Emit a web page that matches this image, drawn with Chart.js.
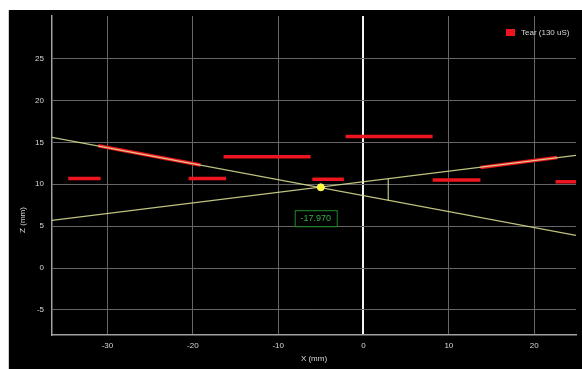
<!DOCTYPE html>
<html lang="en">
<head>
    <meta charset="UTF-8">
    <title>Tear (130 uS)</title>
    <script src="https://cdn.jsdelivr.net/npm/chart.js"></script>
    <style>
        html, body {
            margin: 0;
            background: #ffffff;
        }
        .panel {
            position: absolute;
            left: 8px;
            top: 10px;
            width: 574px;
            height: 359px;
            background: #000000;
            border-left: 1px solid #cfcfcf;
            box-sizing: border-box;
        }
        canvas {
            display: block;
        }
    </style>
</head>
<body>
    <div class="panel">
        <canvas id="chartTear" width="573" height="359"></canvas>
    </div>

    <script>
        // tear segments (mm): start/end X and start/end Z
        const tearX1 = [-34.6, -31.1, -20.5, -16.4, -6.0, -2.1, 8.1, 13.7, 22.5];
        const tearX2 = [-30.8, -19.1, -16.1, -6.2, -2.3, 8.1, 13.7, 22.7, 25.0];
        const tearZ1 = [10.7, 14.6, 10.7, 13.3, 10.6, 15.7, 10.5, 12.0, 10.3];
        const tearZ2 = [10.7, 12.3, 10.7, 13.3, 10.6, 15.7, 10.5, 13.2, 10.3];

        // fitted lines through the tears
        const lineX = [-36.5, 24.9];
        const lineFallZ = [15.6, 3.9];
        const lineRiseZ = [5.7, 13.45];

        // crossing point, gap marker and its readout
        const crossPoint = {x: -5.0, y: 9.64};
        const gapX = 2.9;
        const gapZ = [8.1, 10.67];
        const readoutText = '-17.970';
        const readoutPos = {x: -5.6, y: 5.95};

        const xTicks = [-30, -20, -10, 0, 10, 20];
        const zTicks = [-5, 0, 5, 10, 15, 20, 25];

        const FONT = "'Liberation Sans', Arial, sans-serif";
        const TEAR_RED = '#ee1520';

        let datasets = [];
        for (let i = 0; i < tearX1.length; i++) {
            datasets.push({
                label: 'Tear (130 uS)',
                data: [{x: tearX1[i], y: tearZ1[i]}, {x: tearX2[i], y: tearZ2[i]}],
                borderColor: TEAR_RED,
                backgroundColor: TEAR_RED,
                borderWidth: 3.5,
                showLine: true,
                pointRadius: 0,
                order: 3
            });
        }
        [lineFallZ, lineRiseZ].forEach(z => {
            datasets.push({
                data: [{x: lineX[0], y: z[0]}, {x: lineX[1], y: z[1]}],
                borderColor: 'rgba(225,228,150,0.85)',
                borderWidth: 1.3,
                showLine: true,
                pointRadius: 0,
                order: 2
            });
        });
        datasets.push({
            data: [{x: gapX, y: gapZ[0]}, {x: gapX, y: gapZ[1]}],
            borderColor: 'rgba(225,228,150,0.85)',
            borderWidth: 1.2,
            showLine: true,
            pointRadius: 0,
            order: 2
        });
        datasets.push({
            data: [crossPoint],
            backgroundColor: '#ffff33',
            borderColor: '#ffff66',
            pointRadius: 3.5,
            order: 1
        });

        // axis titles, legend and the green readout box
        const overlay = {
            id: 'overlay',
            afterDatasetsDraw(chart) {
                const ctx = chart.ctx;
                const area = chart.chartArea;
                const xs = chart.scales.x, ys = chart.scales.y;
                ctx.save();
                ctx.font = '8px ' + FONT;
                ctx.fillStyle = '#d8d8d8';
                ctx.textAlign = 'center';
                ctx.textBaseline = 'middle';
                ctx.fillText('X (mm)', (area.left + area.right) / 2, 349);
                ctx.save();
                ctx.translate(14, 210);
                ctx.rotate(-Math.PI / 2);
                ctx.fillText('Z (mm)', 0, 0);
                ctx.restore();

                // legend, top right inside the plot
                ctx.textAlign = 'left';
                ctx.fillStyle = TEAR_RED;
                ctx.fillRect(area.right - 70, 19, 9, 7);
                ctx.fillStyle = '#d8d8d8';
                ctx.fillText(datasets[0].label, area.right - 55, 22.5);
                ctx.restore();

                const px = xs.getPixelForValue(readoutPos.x);
                const py = ys.getPixelForValue(readoutPos.y);
                ctx.save();
                ctx.fillStyle = '#000';
                ctx.fillRect(px - 21, py - 8, 42, 16);
                ctx.strokeStyle = '#1c8a2c';
                ctx.lineWidth = 1;
                ctx.strokeRect(px - 21 + 0.5, py - 8 + 0.5, 42, 16);
                ctx.font = '9px ' + FONT;
                ctx.fillStyle = '#35b24a';
                ctx.textAlign = 'center';
                ctx.textBaseline = 'middle';
                ctx.fillText(readoutText, px, py + 0.5);
                ctx.restore();
            }
        };

        new Chart(document.getElementById('chartTear'), {
            type: 'scatter',
            data: {datasets: datasets},
            options: {
                responsive: false,
                animation: false,
                layout: {padding: {top: 6, right: 6, left: 0, bottom: 0}},
                plugins: {
                    legend: {display: false},
                    tooltip: {enabled: false}
                },
                scales: {
                    x: {
                        type: 'linear',
                        min: -36.5,
                        max: 24.9,
                        afterFit: s => { s.height = 34; s.paddingLeft = 0; s.paddingRight = 0; },
                        afterBuildTicks: s => { s.ticks = xTicks.map(v => ({value: v})); },
                        ticks: {color: '#d8d8d8', font: {size: 8, family: FONT}, padding: 6},
                        grid: {
                            drawTicks: false,
                            color: c => c.tick && c.tick.value === 0 ? '#f4f4f4' : '#666666',
                            lineWidth: c => c.tick && c.tick.value === 0 ? 2 : 1
                        },
                        border: {color: '#a0a0a0', width: 1.5}
                    },
                    y: {
                        type: 'linear',
                        min: -8,
                        max: 30.1,
                        afterFit: s => { s.width = 43; s.paddingTop = 0; s.paddingBottom = 0; },
                        afterBuildTicks: s => { s.ticks = zTicks.map(v => ({value: v})); },
                        ticks: {color: '#d8d8d8', font: {size: 8, family: FONT}, padding: 8},
                        grid: {drawTicks: false, color: '#666666', lineWidth: 1},
                        border: {color: '#a0a0a0', width: 1.5}
                    }
                }
            },
            plugins: [overlay]
        });
    </script>
</body>
</html>
